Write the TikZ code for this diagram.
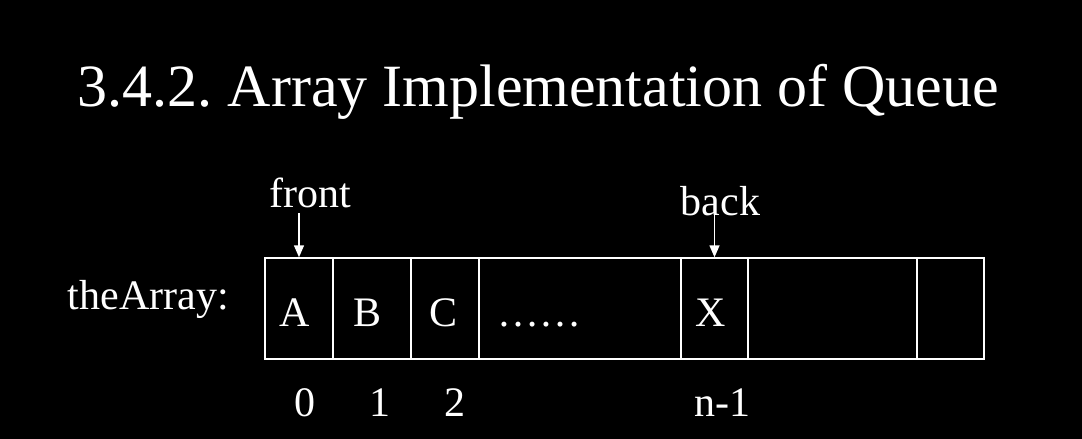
\documentclass[tikz,border=0pt]{standalone}
\usepackage{fontspec}
\setmainfont{Liberation Serif}
\usetikzlibrary{arrows.meta}
\frenchspacing
\begin{document}
\begin{tikzpicture}[x=1pt,y=-1pt,line width=1.5pt,
    cell/.style={draw=white,minimum height=101pt,inner sep=0pt},
    txt/.style={text=white,font=\fontsize{42}{50}\selectfont,anchor=base,inner sep=0pt},
    ptr/.style={draw=white,-{Triangle[length=12pt,width=10pt]}}]
  \fill[black] (0,0) rectangle (1082,439);
  \useasboundingbox (0,0) rectangle (1082,439);
  \node[txt,anchor=base west,font=\fontsize{60}{72}\selectfont] (title) at (77,106) {3.4.2. Array Implementation of Queue};
  \node[txt,anchor=base west] (name) at (67,309) {theArray:};
  \foreach[count=\i,evaluate=\l as \w using \r-\l,evaluate=\l as \cx using (\l+\r)/2] \l/\r in {265/333,333/411,411/479,479/681,681/748,748/917,917/984} {
    \node[cell,minimum width=\w pt] (c\i) at (\cx,308.5) {};
  }
  \foreach[count=\i] \x/\v in {295/A,368/B,444/C,711/X} {
    \node[txt] (v\i) at (\x,326) {\v};
  }
  \node[txt,anchor=base west] (dots) at (497,326) {……};
  \foreach[count=\i] \x/\v in {305/0,380/1,455/2,722/n-1} {
    \node[txt] (n\i) at (\x,416) {\v};
  }
  \node[txt,anchor=base west] (front) at (269,207) {front};
  \node[txt,anchor=base west] (back) at (680,215) {back};
  \draw[ptr] ([yshift=-6pt]c1.north |- front.base) -- (c1.north);
  \draw[ptr] (c5.north |- back.base) -- (c5.north);
\end{tikzpicture}
\end{document}
